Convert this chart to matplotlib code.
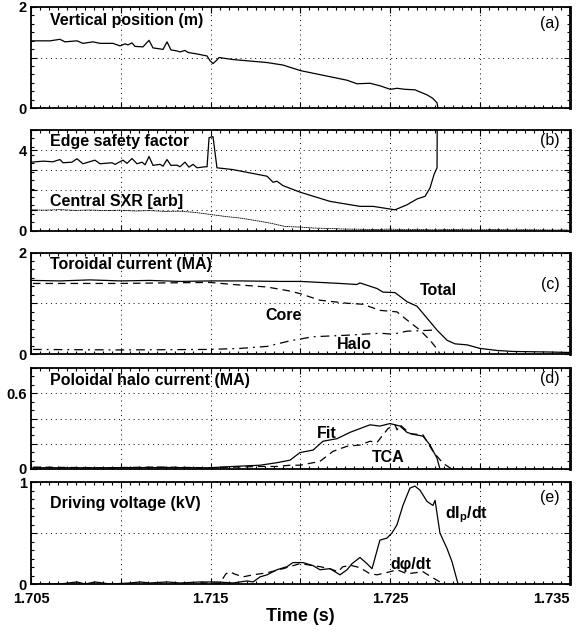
import matplotlib
matplotlib.use("Agg")
import matplotlib.pyplot as plt
from matplotlib import font_manager
from matplotlib.ticker import FixedLocator, MultipleLocator, FuncFormatter

# ---- data ----

# (a) vertical position (m)
t_zpos = [1.70504, 1.70606, 1.70661, 1.70689, 1.70756, 1.70789, 1.70845, 1.70884,
          1.70956, 1.70995, 1.71023, 1.71040, 1.71062, 1.71079, 1.71123, 1.71157,
          1.71179, 1.71218, 1.71235, 1.71257, 1.71279, 1.71313, 1.71329, 1.71357,
          1.71374, 1.71424, 1.71480, 1.71496, 1.71513, 1.71535, 1.71546, 1.71624,
          1.71814, 1.71903, 1.72000, 1.72164, 1.72259, 1.72314, 1.72387, 1.72442,
          1.72500, 1.72537, 1.72582, 1.72637, 1.72704, 1.72737, 1.72760, 1.72765]
zpos = [1.33, 1.33, 1.36, 1.31, 1.33, 1.28, 1.31, 1.28, 1.28, 1.23, 1.27, 1.25,
        1.29, 1.22, 1.21, 1.34, 1.19, 1.17, 1.16, 1.31, 1.15, 1.13, 1.11, 1.14,
        1.10, 1.07, 1.03, 0.94, 0.88, 0.95, 1.00, 0.96, 0.90, 0.85, 0.74, 0.62,
        0.55, 0.48, 0.49, 0.44, 0.37, 0.39, 0.37, 0.36, 0.26, 0.19, 0.10, 0.0]

# (b) edge safety factor and central SXR
t_q = [1.70504, 1.70567, 1.70622, 1.70661, 1.70678, 1.70728, 1.70756, 1.70789,
       1.70856, 1.70884, 1.70951, 1.70968, 1.71012, 1.71034, 1.71062, 1.71090,
       1.71118, 1.71135, 1.71157, 1.71179, 1.71218, 1.71235, 1.71257, 1.71279,
       1.71313, 1.71329, 1.71357, 1.71379, 1.71402, 1.71424, 1.71469, 1.71480,
       1.71491, 1.71513, 1.71535, 1.71624, 1.71814, 1.71847, 1.71869, 1.71903,
       1.72000, 1.72164, 1.72331, 1.72404, 1.72526, 1.72593, 1.72649, 1.72693,
       1.72721, 1.72743, 1.72760, 1.72761]
q_edge = [3.40, 3.45, 3.42, 3.53, 3.37, 3.40, 3.57, 3.32, 3.50, 3.32, 3.37, 3.29,
          3.50, 3.34, 3.58, 3.32, 3.40, 3.27, 3.68, 3.24, 3.29, 3.20, 3.53, 3.24,
          3.25, 3.17, 3.40, 3.15, 3.29, 3.12, 3.17, 3.17, 4.62, 4.67, 3.12, 3.03,
          2.70, 2.40, 2.45, 2.23, 1.90, 1.45, 1.20, 1.20, 1.03, 1.28, 1.57, 1.70,
          2.12, 2.78, 3.12, 5.50]

t_sxr = [1.70506, 1.70578, 1.70661, 1.70745, 1.70828, 1.70912, 1.70995, 1.71079,
         1.71162, 1.71246, 1.71329, 1.71413, 1.71496, 1.71580, 1.71663, 1.71747,
         1.71830, 1.71914, 1.71997, 1.72081, 1.72164, 1.72248, 1.72331, 1.72415,
         1.72498, 1.72582, 1.72665, 1.72749, 1.72832, 1.72916, 1.72999, 1.73083,
         1.73166, 1.73250, 1.73333, 1.73416, 1.73489]
sxr = [1.03, 1.01, 1.04, 1.00, 1.02, 0.99, 1.01, 0.97, 0.99, 0.95, 0.96, 0.90,
       0.80, 0.70, 0.62, 0.50, 0.37, 0.20, 0.17, 0.12, 0.10, 0.07, 0.06, 0.05,
       0.07, 0.04, 0.05, 0.03, 0.05, 0.04, 0.03, 0.05, 0.03, 0.04, 0.03, 0.02, 0.03]

# (c) toroidal current (MA)
t_total = [1.70504, 1.70661, 1.70828, 1.71000, 1.71162, 1.71329, 1.71500, 1.71663,
           1.71886, 1.72000, 1.72220, 1.72314, 1.72331, 1.72426, 1.72459, 1.72526,
           1.72593, 1.72649, 1.72682, 1.72760, 1.72816, 1.72860, 1.72927, 1.72999,
           1.73094, 1.73183, 1.73372, 1.73500]
i_total = [1.45, 1.44, 1.46, 1.44, 1.45, 1.43, 1.44, 1.44, 1.43, 1.43, 1.39, 1.37,
           1.40, 1.29, 1.22, 1.21, 1.03, 0.94, 0.80, 0.47, 0.27, 0.20, 0.18, 0.11,
           0.07, 0.05, 0.04, 0.03]

t_core = [1.70511, 1.70995, 1.71218, 1.71496, 1.71624, 1.71814, 1.71942, 1.71997,
          1.72108, 1.72259, 1.72348, 1.72442, 1.72537, 1.72593, 1.72665, 1.72721,
          1.72760, 1.72776]
i_core = [1.39, 1.39, 1.40, 1.41, 1.37, 1.32, 1.24, 1.19, 1.06, 1.00, 0.98, 0.86,
          0.83, 0.67, 0.47, 0.27, 0.10, 0.0]

t_halo = [1.70511, 1.70995, 1.71496, 1.71663, 1.71814, 1.71942, 1.72070, 1.72259,
          1.72442, 1.72515, 1.72593, 1.72737]
i_halo = [0.09, 0.08, 0.09, 0.11, 0.15, 0.26, 0.34, 0.37, 0.41, 0.39, 0.45, 0.47]

# (d) poloidal halo current (MA)
t_fit = [1.70511, 1.70884, 1.71218, 1.71496, 1.71624, 1.71775, 1.71869, 1.71942,
         1.71997, 1.72070, 1.72125, 1.72203, 1.72275, 1.72387, 1.72442, 1.72498,
         1.72554, 1.72593, 1.72626, 1.72682, 1.72721, 1.72760, 1.72776]
i_fit = [0.01, 0.01, 0.012, 0.01, 0.02, 0.03, 0.05, 0.07, 0.13, 0.15, 0.22, 0.24,
         0.29, 0.35, 0.34, 0.36, 0.34, 0.29, 0.275, 0.26, 0.19, 0.085, 0.0]

t_tca = [1.70511, 1.70884, 1.71218, 1.71496, 1.71775, 1.71869, 1.71942, 1.71997,
         1.72108, 1.72181, 1.72259, 1.72331, 1.72387, 1.72426, 1.72459, 1.72487,
         1.72526, 1.72537, 1.72554, 1.72609, 1.72682, 1.72737, 1.72793, 1.72843]
i_tca = [0.015, 0.01, 0.015, 0.01, 0.02, 0.02, 0.03, 0.03, 0.06, 0.14, 0.18, 0.19,
         0.22, 0.21, 0.27, 0.32, 0.35, 0.31, 0.35, 0.28, 0.27, 0.14, 0.045, 0.0]

# (e) driving voltage (kV)
t_dip = [1.70511, 1.70661, 1.70756, 1.70801, 1.70856, 1.70940, 1.71051, 1.71107,
         1.71162, 1.71257, 1.71329, 1.71441, 1.71535, 1.71624, 1.71702, 1.71736,
         1.71775, 1.71814, 1.71869, 1.71925, 1.71958, 1.72014, 1.72070, 1.72108,
         1.72164, 1.72220, 1.72259, 1.72287, 1.72331, 1.72370, 1.72398, 1.72442,
         1.72481, 1.72509, 1.72537, 1.72570, 1.72609, 1.72637, 1.72665, 1.72704,
         1.72737, 1.72749, 1.72776, 1.72815, 1.72843, 1.72877]
v_dip = [0.0, 0.0, 0.02, 0.0, 0.02, 0.0, 0.01, 0.02, 0.01, 0.02, 0.01, 0.02, 0.02,
         0.01, 0.03, 0.02, 0.07, 0.09, 0.14, 0.17, 0.21, 0.21, 0.18, 0.14, 0.15,
         0.09, 0.14, 0.20, 0.26, 0.20, 0.15, 0.43, 0.45, 0.50, 0.58, 0.77, 0.94,
         0.96, 0.92, 0.81, 0.77, 0.82, 0.50, 0.35, 0.22, 0.0]

t_dphi = [1.71441, 1.71500, 1.71552, 1.71585, 1.71608, 1.71630, 1.71680, 1.71736,
          1.71814, 1.71903, 1.71997, 1.72108, 1.72164, 1.72209, 1.72236, 1.72287,
          1.72331, 1.72387, 1.72426, 1.72498, 1.72537, 1.72593, 1.72682, 1.72737,
          1.72776, 1.72793]
v_dphi = [0.01, 0.01, 0.01, 0.10, 0.12, 0.10, 0.07, 0.09, 0.11, 0.15, 0.20, 0.17,
          0.15, 0.12, 0.17, 0.18, 0.16, 0.10, 0.09, 0.12, 0.14, 0.10, 0.12, 0.06,
          0.02, 0.0]

x_ticks = [1.705, 1.710, 1.715, 1.720, 1.725, 1.730, 1.735]
x_labels = {1.705: '1.705', 1.715: '1.715', 1.725: '1.725', 1.735: '1.735'}


# ---- fonts ----
def font_ok(name):
    try:
        font_manager.findfont(font_manager.FontProperties(family=name),
                              fallback_to_default=False)
        return True
    except ValueError:
        return False

if font_ok('Liberation Sans Narrow'):
    BOLD = 'Liberation Sans Narrow'
    s_title, s_tick, s_xlab = 13.5, 12, 15
else:
    BOLD = 'Liberation Sans'
    s_title, s_tick, s_xlab = 11.5, 10.5, 13
plt.rcParams['font.family'] = ['Liberation Sans', 'DejaVu Sans']
plt.rcParams['mathtext.fontset'] = 'custom'
plt.rcParams['mathtext.rm'] = BOLD + ':bold'
plt.rcParams['mathtext.it'] = BOLD + ':bold'
plt.rcParams['mathtext.bf'] = BOLD + ':bold'

bold = dict(family=[BOLD, 'DejaVu Sans'], weight='bold')

# ---- figure ----
fig = plt.figure(figsize=(5.82, 6.34), dpi=100)
L, W = 31 / 582, 539 / 582
# (top, bottom) in pixels for each panel
rows = [(7, 108), (130, 230.5), (252.5, 354), (368, 469), (482, 584)]
axes = []
for top, bot in rows:
    axes.append(fig.add_axes([L, 1 - bot / 634, W, (bot - top) / 634]))


def style(ax, ymax, yticks, ylabels, last=False):
    ax.set_xlim(1.705, 1.735)
    ax.set_ylim(0, ymax)
    ax.xaxis.set_major_locator(FixedLocator(x_ticks))
    ax.xaxis.set_minor_locator(MultipleLocator(0.0005))
    ax.yaxis.set_major_locator(FixedLocator(yticks))
    ax.yaxis.set_minor_locator(MultipleLocator(ymax / 12))
    ax.yaxis.set_major_formatter(FuncFormatter(
        lambda v, p: ylabels.get(round(v, 3), '')))
    if last:
        ax.xaxis.set_major_formatter(FuncFormatter(
            lambda v, p: x_labels.get(round(v, 3), '')))
    else:
        ax.xaxis.set_major_formatter(FuncFormatter(lambda v, p: ''))
    ax.tick_params(which='both', direction='in', top=True, right=True, width=0.8)
    ax.tick_params(which='major', length=4)
    ax.tick_params(which='minor', length=2)
    ax.tick_params(axis='y', pad=3)
    ax.tick_params(axis='x', pad=6)
    for lab in ax.get_xticklabels() + ax.get_yticklabels():
        lab.set_family([BOLD, 'DejaVu Sans'])
        lab.set_weight('bold')
        lab.set_fontsize(s_tick)
    ax.grid(True, which='major', color='black', linestyle=(0, (1, 4)), linewidth=0.7)
    for sp in ax.spines.values():
        sp.set_linewidth(1.3)
    ax.spines['right'].set_linewidth(2.0)


def title(ax, text, y):
    ax.text(0.035, y, text, transform=ax.transAxes, ha='left', va='center',
            fontsize=s_title, **bold)


def tag(ax, text, y):
    ax.text(0.981, y, text, transform=ax.transAxes, ha='right', va='center',
            fontsize=11.5)


lw = 0.9
dash = (0, (6, 4))
dashdot = (0, (7, 4, 1.5, 4))

# (a)
ax = axes[0]
ax.plot(t_zpos, zpos, color='black', lw=lw)
style(ax, 2, [0, 1, 2], {0: '0', 2: '2'})
title(ax, 'Vertical position (m)', 0.87)
tag(ax, '(a)', 0.84)

# (b)
ax = axes[1]
ax.plot(t_q, q_edge, color='black', lw=lw)
ax.plot(t_sxr, sxr, color='black', lw=0.6, linestyle=(0, (2, 0.6)))
style(ax, 5, [0, 1, 2, 3, 4, 5], {0: '0', 4: '4'})
title(ax, 'Edge safety factor', 0.884)
title(ax, 'Central SXR [arb]', 0.288)
tag(ax, '(b)', 0.9)

# (c)
ax = axes[2]
ax.plot(t_total, i_total, color='black', lw=lw)
ax.plot(t_core, i_core, color='black', lw=lw, linestyle=dash)
ax.plot(t_halo, i_halo, color='black', lw=lw, linestyle=dashdot)
style(ax, 2, [0, 1, 2], {0: '0', 2: '2'})
title(ax, 'Toroidal current (MA)', 0.879)
tag(ax, '(c)', 0.68)
ax.text(1.72665, 1.25, 'Total', ha='left', va='center', fontsize=s_title, **bold)
ax.text(1.71802, 0.76, 'Core', ha='left', va='center', fontsize=s_title, **bold)
ax.text(1.72203, 0.18, 'Halo', ha='left', va='center', fontsize=s_title, **bold)

# (d)
ax = axes[3]
ax.plot(t_fit, i_fit, color='black', lw=lw)
ax.plot(t_tca, i_tca, color='black', lw=lw, linestyle=dash)
style(ax, 0.8, [0, 0.2, 0.4, 0.6, 0.8], {0: '0', 0.6: '0.6'})
title(ax, 'Poloidal halo current (MA)', 0.88)
tag(ax, '(d)', 0.9)
ax.text(1.72092, 0.285, 'Fit', ha='left', va='center', fontsize=s_title, **bold)
ax.text(1.72398, 0.095, 'TCA', ha='left', va='center', fontsize=s_title, **bold)

# (e)
ax = axes[4]
ax.plot(t_dip, v_dip, color='black', lw=lw)
ax.plot(t_dphi, v_dphi, color='black', lw=lw, linestyle=dash)
style(ax, 1, [0, 0.5, 1], {0: '0', 1: '1'}, last=True)
title(ax, 'Driving voltage (kV)', 0.794)
tag(ax, '(e)', 0.85)
ax.text(1.72804, 0.68, r'dI$_{\mathrm{p}}$/dt', ha='left', va='center',
        fontsize=s_title, **bold)
ax.text(1.7250, 0.19, 'd\u03c6/dt', ha='left', va='center', fontsize=s_title, **bold)
ax.set_xlabel('Time (s)', fontsize=s_xlab, labelpad=1, **bold)
# last label would run off the figure edge
ax.xaxis.get_major_ticks()[-1].label1.set_horizontalalignment('right')
# lift the bottom "0" a little so it clears the first time label
ax.yaxis.get_major_ticks()[0].label1.set_verticalalignment('center_baseline')

fig.savefig('out.png', dpi=100)
